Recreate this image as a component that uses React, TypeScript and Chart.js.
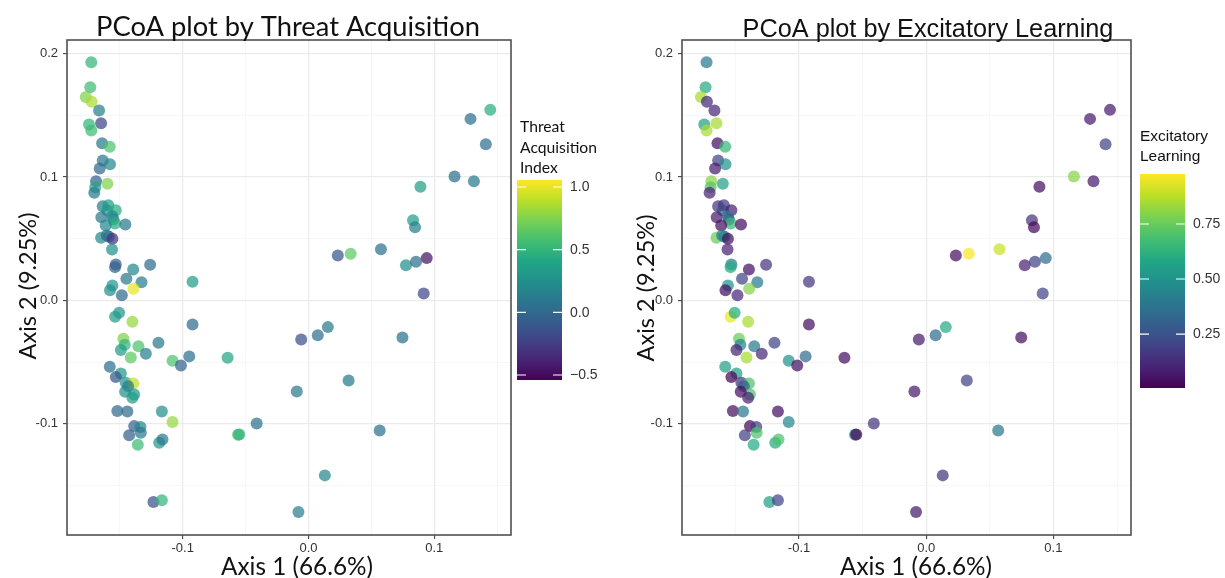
import React, { useEffect, useRef } from "react";
import { Chart, registerables } from "chart.js";
Chart.register(...registerables);

// ---------- DATA ----------
const pcoaAxis1 = [
  -0.1727, -0.1735, -0.1771, -0.1724, -0.1665, -0.1649, -0.1745, -0.1727, -0.1641, -0.1580,
  -0.1636, -0.1578, -0.1660, -0.1689, -0.1599, -0.1695, -0.1703, -0.1636, -0.1591, -0.1599,
  -0.1532, -0.1647, -0.1559, -0.1551, -0.1538, -0.1612, -0.1456, -0.1649, -0.1604, -0.1586,
  -0.1559, -0.1562, -0.1532, -0.1538, -0.1394, -0.1259, -0.1448, -0.1328, -0.0922, -0.1559,
  -0.1392, -0.1578, -0.1484, -0.1538, -0.1506, -0.1400, -0.0922, -0.1472, -0.1461, -0.1492,
  -0.1352, -0.1193, -0.1293, -0.1413, -0.1081, -0.0948, -0.1014, -0.1580, -0.1492, -0.1532,
  -0.1453, -0.1394, -0.1434, -0.1386, -0.1458, -0.1400, -0.1520, -0.1440, -0.1166, -0.1081,
  -0.1386, -0.1336, -0.1426, -0.1333, -0.1357, -0.1187, -0.1161, -0.1233, -0.1166, 0.1445,
  0.1288, 0.1410, 0.1161, 0.1315, 0.0890, 0.0831, 0.0847, 0.0576, 0.0233, 0.0335,
  0.0775, 0.0855, 0.0940, 0.0916, 0.0154, 0.0074, -0.0058, 0.0747, -0.0643, 0.0319,
  -0.0093, -0.0412, -0.0560, -0.0550, 0.0566, 0.0130, -0.0080,
];
const pcoaAxis2 = [
  0.1930, 0.1727, 0.1649, 0.1609, 0.1538, 0.1436, 0.1425, 0.1377, 0.1274, 0.1245,
  0.1134, 0.1104, 0.1069, 0.0966, 0.0945, 0.0917, 0.0872, 0.0764, 0.0772, 0.0729,
  0.0731, 0.0674, 0.0683, 0.0656, 0.0623, 0.0607, 0.0615, 0.0508, 0.0526, 0.0516,
  0.0500, 0.0413, 0.0291, 0.0270, 0.0251, 0.0289, 0.0176, 0.0148, 0.0151, 0.0121,
  0.0095, 0.0083, 0.0043, -0.0132, -0.0100, -0.0172, -0.0194, -0.0310, -0.0359, -0.0402,
  -0.0370, -0.0343, -0.0432, -0.0462, -0.0488, -0.0453, -0.0526, -0.0537, -0.0591, -0.0621,
  -0.0666, -0.0672, -0.0694, -0.0761, -0.0739, -0.0788, -0.0896, -0.0899, -0.0899, -0.0985,
  -0.1018, -0.1026, -0.1091, -0.1071, -0.1168, -0.1152, -0.1126, -0.1633, -0.1619, 0.1544,
  0.1471, 0.1266, 0.1004, 0.0966, 0.0921, 0.0650, 0.0594, 0.0415, 0.0364, 0.0378,
  0.0286, 0.0313, 0.0343, 0.0057, -0.0216, -0.0281, -0.0316, -0.0300, -0.0464, -0.0648,
  -0.0737, -0.0996, -0.1087, -0.1085, -0.1053, -0.1417, -0.1714,
];
const threatAcquisitionIndex = [
  0.5, 0.55, 0.75, 0.85, 0.15, -0.2, 0.5, 0.55, 0.1, 0.6,
  0.1, 0.2, 0.0, -0.05, 0.75, 0.4, 0.1, 0.15, 0.35, 0.3,
  0.45, 0.1, 0.2, 0.2, 0.45, 0.2, 0.1, 0.2, 0.0, 0.1,
  -0.3, 0.25, -0.05, -0.05, 0.2, 0.0, 0.1, 0.15, 0.35, 0.3,
  1.0, 0.25, 0.0, 0.35, 0.3, 0.8, 0.0, 0.75, 0.5, 0.35,
  0.6, 0.1, 0.15, 0.65, 0.6, 0.05, -0.05, 0.05, 0.3, -0.1,
  0.3, 0.9, 0.1, 0.3, 0.25, 0.35, 0.0, 0.0, 0.25, 0.8,
  -0.05, 0.2, -0.05, 0.1, 0.55, 0.3, 0.1, -0.15, 0.5, 0.45,
  0.05, 0.05, 0.05, 0.1, 0.35, 0.35, 0.15, 0.05, -0.1, 0.65,
  0.25, 0.05, -0.45, -0.2, 0.1, 0.05, -0.15, 0.05, 0.4, 0.1,
  0.1, 0.05, 0.55, 0.5, 0.05, 0.2, 0.15,
];
const excitatoryLearning = [
  0.4, 0.6, 0.85, 0.12, 0.12, 0.85, 0.55, 0.85, 0.05, 0.65,
  0.2, 0.5, 0.08, 0.8, 0.55, 0.72, 0.1, 0.15, 0.15, 0.25,
  0.1, 0.08, 0.4, 0.3, 0.65, 0.05, 0.05, 0.75, 0.4, 0.45,
  0.05, 0.1, 0.4, 0.6, 0.05, 0.15, 0.2, 0.4, 0.15, 0.5,
  0.8, 0.05, 0.12, 0.95, 0.6, 0.85, 0.05, 0.75, 0.45, 0.1,
  0.4, 0.2, 0.12, 0.85, 0.5, 0.35, 0.05, 0.55, 0.55, 0.02,
  0.15, 0.7, 0.3, 0.7, 0.05, 0.1, 0.05, 0.4, 0.05, 0.45,
  0.03, 0.18, 0.18, 0.7, 0.6, 0.6, 0.7, 0.55, 0.2, 0.08,
  0.08, 0.2, 0.8, 0.08, 0.05, 0.15, 0.03, 0.9, 0.05, 0.97,
  0.1, 0.2, 0.35, 0.2, 0.6, 0.35, 0.08, 0.05, 0.05, 0.2,
  0.08, 0.15, 0.5, 0.02, 0.4, 0.15, 0.08,
];
const axisTickValues = [-0.1, 0.0, 0.1, 0.2];
const threatLegendTicks = [1.0, 0.5, 0.0, -0.5];
const threatLegendLabels = ["1.0", "0.5", "0.0", "\u22120.5"];
const learningLegendTicks = [0.75, 0.5, 0.25];
const learningLegendLabels = ["0.75", "0.50", "0.25"];

const X_MIN = -0.192, X_MAX = 0.161, Y_MIN = -0.19, Y_MAX = 0.211;

// ---------- STYLE ----------
const VIRIDIS = ["#440154", "#482475", "#414487", "#355f8d", "#2a788e", "#21918c", "#22a884", "#44bf70", "#7ad151", "#bddf26", "#fde725"];
function hexRgb(h: string) {
  return [parseInt(h.slice(1, 3), 16), parseInt(h.slice(3, 5), 16), parseInt(h.slice(5, 7), 16)];
}
function viridis(t: number, a: number) {
  t = Math.max(0, Math.min(1, t));
  const p = t * (VIRIDIS.length - 1);
  const i = Math.min(VIRIDIS.length - 2, Math.floor(p));
  const f = p - i;
  const c0 = hexRgb(VIRIDIS[i]), c1 = hexRgb(VIRIDIS[i + 1]);
  const c = c0.map((v, k) => Math.round(v + (c1[k] - v) * f));
  return `rgba(${c[0]},${c[1]},${c[2]},${a})`;
}
const LATO = '"Lato", "Open Sans", sans-serif';
const HELV = '"Liberation Sans", Arial, sans-serif';

function fitFont(ctx: CanvasRenderingContext2D, text: string, family: string, targetW: number) {
  ctx.font = `40px ${family}`;
  const w = ctx.measureText(text).width;
  return `${(40 * targetW / w).toFixed(2)}px ${family}`;
}

const isMajor = (v: number) => Math.abs(v * 10 - Math.round(v * 10)) < 1e-6 &&
  axisTickValues.some((t) => Math.abs(t - v) < 1e-6);
const fmt = (v: number) => (Math.abs(v) < 1e-9 ? "0.0" : v.toFixed(1));

type PanelCfg = {
  canvasW: number; yAxisW: number; padRight: number;
  title: string; titleFamily: string; titleCX: number; titleBase: number; titleW: number;
  xTitleCX: number; yTitleCX: number; yTitleCY: number;
  legendLines: string[]; legendFamily: string; legendX: number; legendY0: number; legendLH: number; legendW: number;
  bar: { x: number; y: number; w: number; h: number };
  cMin: number; cMax: number; cTicks: number[]; cLabels: string[]; cLabelX: number;
  values: number[];
};

const LEFT: PanelCfg = {
  canvasW: 612, yAxisW: 67, padRight: 101,
  title: "PCoA plot by Threat Acquisition", titleFamily: LATO, titleCX: 288, titleBase: 36, titleW: 384,
  xTitleCX: 297, yTitleCX: 28, yTitleCY: 286,
  legendLines: ["Threat", "Acquisition", "Index"], legendFamily: LATO, legendX: 520, legendY0: 127, legendLH: 20.5, legendW: 77,
  bar: { x: 517, y: 180, w: 45, h: 200 },
  cMin: -0.54, cMax: 1.056, cTicks: threatLegendTicks, cLabels: threatLegendLabels, cLabelX: 570,
  values: threatAcquisitionIndex,
};
const RIGHT: PanelCfg = {
  canvasW: 613, yAxisW: 70, padRight: 94,
  title: "PCoA plot by Excitatory Learning", titleFamily: HELV, titleCX: 316, titleBase: 37, titleW: 371,
  xTitleCX: 304, yTitleCX: 34, yTitleCY: 288,
  legendLines: ["Excitatory", "Learning"], legendFamily: HELV, legendX: 528, legendY0: 137, legendLH: 20, legendW: 68,
  bar: { x: 528, y: 174, w: 45, h: 214 },
  cMin: 0.005, cMax: 0.977, cTicks: learningLegendTicks, cLabels: learningLegendLabels, cLabelX: 581,
  values: excitatoryLearning,
};

function decorPlugin(cfg: PanelCfg) {
  return {
    id: "decor",
    afterDraw(chart: any) {
      const ctx: CanvasRenderingContext2D = chart.ctx;
      const a = chart.chartArea;
      ctx.save();
      // panel border
      ctx.strokeStyle = "#505050";
      ctx.lineWidth = 1.6;
      ctx.strokeRect(a.left, a.top, a.right - a.left, a.bottom - a.top);
      // title
      ctx.fillStyle = "#111";
      ctx.textAlign = "center";
      ctx.textBaseline = "alphabetic";
      ctx.font = fitFont(ctx, cfg.title, cfg.titleFamily, cfg.titleW);
      ctx.fillText(cfg.title, cfg.titleCX, cfg.titleBase);
      // axis titles
      const xt = "Axis 1 (66.6%)", yt = "Axis 2 (9.25%)";
      ctx.font = fitFont(ctx, xt, LATO, 152);
      ctx.textBaseline = "middle";
      ctx.fillText(xt, cfg.xTitleCX, 567);
      ctx.save();
      ctx.translate(cfg.yTitleCX, cfg.yTitleCY);
      ctx.rotate(-Math.PI / 2);
      ctx.font = fitFont(ctx, yt, LATO, 147);
      ctx.fillText(yt, 0, 0);
      ctx.restore();
      // legend title
      ctx.textAlign = "left";
      const widest = cfg.legendLines.reduce((m, s) => (s.length > m.length ? s : m), "");
      ctx.font = fitFont(ctx, widest, cfg.legendFamily, cfg.legendW);
      cfg.legendLines.forEach((s, i) => ctx.fillText(s, cfg.legendX, cfg.legendY0 + i * cfg.legendLH));
      // colour bar
      const b = cfg.bar;
      const g = ctx.createLinearGradient(0, b.y + b.h, 0, b.y);
      for (let k = 0; k <= 40; k++) g.addColorStop(k / 40, viridis(k / 40, 1));
      ctx.fillStyle = g;
      ctx.fillRect(b.x, b.y, b.w, b.h);
      ctx.font = `14px ${HELV}`;
      ctx.textBaseline = "middle";
      cfg.cTicks.forEach((v, i) => {
        const y = b.y + (cfg.cMax - v) / (cfg.cMax - cfg.cMin) * b.h;
        ctx.strokeStyle = "#ffffff";
        ctx.lineWidth = 1.2;
        ctx.beginPath();
        ctx.moveTo(b.x, y); ctx.lineTo(b.x + 9, y);
        ctx.moveTo(b.x + b.w - 9, y); ctx.lineTo(b.x + b.w, y);
        ctx.stroke();
        ctx.fillStyle = "#333";
        ctx.fillText(cfg.cLabels[i], cfg.cLabelX, y + 0.5);
      });
      ctx.restore();
    },
  };
}

function axisOpts(min: number, max: number, isX: boolean, size: number) {
  return {
    type: "linear" as const,
    min, max,
    afterFit: (s: any) => { if (isX) s.height = size; else s.width = size; },
    ticks: {
      stepSize: 0.05, includeBounds: false, autoSkip: false, maxRotation: 0, minRotation: 0,
      padding: isX ? 2 : 5,
      color: "#333",
      font: { family: HELV, size: 13 },
      callback: (v: any) => (isMajor(Number(v)) ? fmt(Number(v)) : ""),
    },
    grid: {
      color: (c: any) => (c.tick && isMajor(c.tick.value) ? "#ebebeb" : "#f4f4f4"),
      lineWidth: (c: any) => (c.tick && isMajor(c.tick.value) ? 1.2 : 0.7),
      tickColor: (c: any) => (c.tick && isMajor(c.tick.value) ? "#444" : "rgba(0,0,0,0)"),
      tickWidth: 1.1,
      tickLength: 4,
      drawTicks: true,
    },
    border: { display: false },
  };
}

function Panel({ cfg, left }: { cfg: PanelCfg; left: number }) {
  const ref = useRef<HTMLCanvasElement | null>(null);
  useEffect(() => {
    if (!ref.current) return;
    const pts = pcoaAxis1.map((x, i) => ({ x, y: pcoaAxis2[i] }));
    const colors = cfg.values.map((v) => viridis((v - cfg.cMin) / (cfg.cMax - cfg.cMin), 0.72));
    const chart = new Chart(ref.current, {
      type: "scatter",
      data: {
        datasets: [{
          data: pts,
          backgroundColor: colors,
          pointBackgroundColor: colors,
          pointBorderWidth: 0,
          pointRadius: 6,
          pointHoverRadius: 6,
        }],
      },
      options: {
        animation: false,
        responsive: false,
        devicePixelRatio: 1,
        events: [],
        layout: { padding: { left: 0, top: 40, right: cfg.padRight, bottom: 0 } },
        plugins: { legend: { display: false }, tooltip: { enabled: false }, title: { display: false } },
        scales: {
          x: axisOpts(X_MIN, X_MAX, true, 43) as any,
          y: axisOpts(Y_MIN, Y_MAX, false, cfg.yAxisW) as any,
        },
      },
      plugins: [decorPlugin(cfg)],
    });
    return () => chart.destroy();
  }, [cfg]);
  return (
    <canvas
      ref={ref}
      width={cfg.canvasW}
      height={578}
      style={{ position: "absolute", left, top: 0, width: cfg.canvasW, height: 578, display: "block" }}
    />
  );
}

export default function App() {
  return (
    <div style={{ position: "absolute", left: 0, top: 0, width: 1225, height: 578, background: "#fff", overflow: "hidden" }}>
      <Panel cfg={LEFT} left={0} />
      <Panel cfg={RIGHT} left={612} />
    </div>
  );
}
